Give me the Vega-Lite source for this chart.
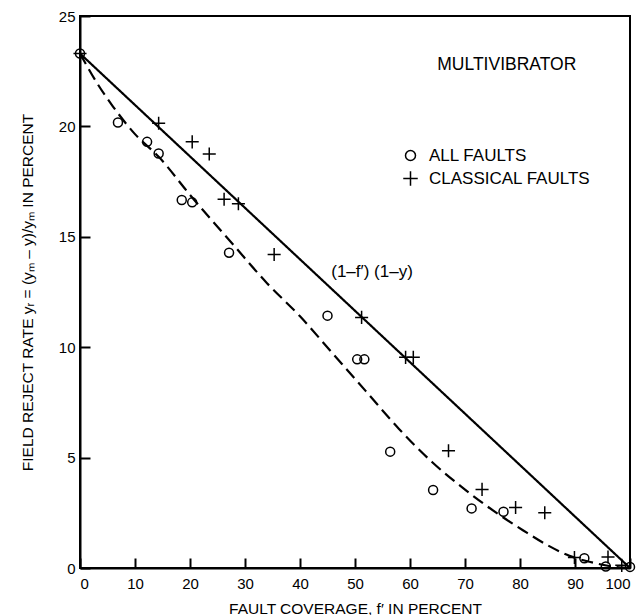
{
  "$schema": "https://vega.github.io/schema/vega-lite/v6.json",
  "autosize": {"type": "none"},
  "padding": {"left": 80, "top": 16, "right": 13, "bottom": 47},
  "width": 550,
  "height": 552,
  "background": "white",
  "config": {
    "font": "Liberation Sans",
    "view": {"stroke": "black", "strokeWidth": 2},
    "axis": {
      "grid": false,
      "domainColor": "black",
      "domainWidth": 2,
      "tickColor": "black",
      "tickWidth": 2,
      "tickSize": -10,
      "labelColor": "black",
      "labelFont": "Liberation Sans",
      "labelFontSize": 15,
      "titleColor": "black",
      "titleFont": "Liberation Sans",
      "titleFontSize": 15.5,
      "titleFontWeight": "normal"
    }
  },
  "datasets": {
    "points": [
      {"f": 0, "yr": 23.3, "series": "CLASSICAL FAULTS"},
      {"f": 14.3, "yr": 20.14, "series": "CLASSICAL FAULTS"},
      {"f": 20.4, "yr": 19.3, "series": "CLASSICAL FAULTS"},
      {"f": 23.5, "yr": 18.75, "series": "CLASSICAL FAULTS"},
      {"f": 26.2, "yr": 16.7, "series": "CLASSICAL FAULTS"},
      {"f": 28.8, "yr": 16.5, "series": "CLASSICAL FAULTS"},
      {"f": 35.3, "yr": 14.2, "series": "CLASSICAL FAULTS"},
      {"f": 51.2, "yr": 11.35, "series": "CLASSICAL FAULTS"},
      {"f": 59.2, "yr": 9.54, "series": "CLASSICAL FAULTS"},
      {"f": 60.6, "yr": 9.54, "series": "CLASSICAL FAULTS"},
      {"f": 67.0, "yr": 5.31, "series": "CLASSICAL FAULTS"},
      {"f": 73.1, "yr": 3.56, "series": "CLASSICAL FAULTS"},
      {"f": 79.2, "yr": 2.74, "series": "CLASSICAL FAULTS"},
      {"f": 84.5, "yr": 2.5, "series": "CLASSICAL FAULTS"},
      {"f": 89.9, "yr": 0.48, "series": "CLASSICAL FAULTS"},
      {"f": 96.0, "yr": 0.5, "series": "CLASSICAL FAULTS"},
      {"f": 98.5, "yr": 0.12, "series": "CLASSICAL FAULTS"},
      {"f": 0, "yr": 23.3, "series": "ALL FAULTS"},
      {"f": 6.9, "yr": 20.18, "series": "ALL FAULTS"},
      {"f": 12.2, "yr": 19.3, "series": "ALL FAULTS"},
      {"f": 14.3, "yr": 18.77, "series": "ALL FAULTS"},
      {"f": 18.5, "yr": 16.67, "series": "ALL FAULTS"},
      {"f": 20.4, "yr": 16.56, "series": "ALL FAULTS"},
      {"f": 27.1, "yr": 14.28, "series": "ALL FAULTS"},
      {"f": 45.0, "yr": 11.43, "series": "ALL FAULTS"},
      {"f": 50.4, "yr": 9.45, "series": "ALL FAULTS"},
      {"f": 51.7, "yr": 9.45, "series": "ALL FAULTS"},
      {"f": 56.4, "yr": 5.27, "series": "ALL FAULTS"},
      {"f": 64.2, "yr": 3.53, "series": "ALL FAULTS"},
      {"f": 71.2, "yr": 2.7, "series": "ALL FAULTS"},
      {"f": 77.0, "yr": 2.55, "series": "ALL FAULTS"},
      {"f": 91.7, "yr": 0.44, "series": "ALL FAULTS"},
      {"f": 95.6, "yr": 0.07, "series": "ALL FAULTS"},
      {"f": 100, "yr": 0.05, "series": "ALL FAULTS"}
    ],
    "curves": [
      {"f": 0, "yr": 23.3, "curve": "solid"},
      {"f": 100, "yr": 0, "curve": "solid"},
      {"f": 0, "yr": 23.3, "curve": "dashed"},
      {"f": 3, "yr": 22.0, "curve": "dashed"},
      {"f": 6, "yr": 20.9, "curve": "dashed"},
      {"f": 10, "yr": 19.65, "curve": "dashed"},
      {"f": 14.4, "yr": 18.6, "curve": "dashed"},
      {"f": 20, "yr": 16.9, "curve": "dashed"},
      {"f": 28, "yr": 14.6, "curve": "dashed"},
      {"f": 34, "yr": 12.9, "curve": "dashed"},
      {"f": 40, "yr": 11.4, "curve": "dashed"},
      {"f": 46, "yr": 9.7, "curve": "dashed"},
      {"f": 52, "yr": 8.0, "curve": "dashed"},
      {"f": 58, "yr": 6.3, "curve": "dashed"},
      {"f": 64, "yr": 4.8, "curve": "dashed"},
      {"f": 70, "yr": 3.55, "curve": "dashed"},
      {"f": 76, "yr": 2.45, "curve": "dashed"},
      {"f": 80.6, "yr": 1.7, "curve": "dashed"},
      {"f": 84.8, "yr": 1.06, "curve": "dashed"},
      {"f": 89, "yr": 0.55, "curve": "dashed"},
      {"f": 93.3, "yr": 0.24, "curve": "dashed"},
      {"f": 97, "yr": 0.06, "curve": "dashed"},
      {"f": 100, "yr": 0, "curve": "dashed"}
    ],
    "labels": [
      {"f": 77.6, "yr": 22.8, "text": "MULTIVIBRATOR", "size": "big"},
      {"f": 53.1, "yr": 13.4, "text": "(1–f′) (1–y)", "size": "small"}
    ]
  },
  "layer": [
    {
      "data": {"name": "curves"},
      "mark": {"type": "line", "color": "black", "strokeWidth": 2.2, "clip": false, "interpolate": "monotone"},
      "encoding": {
        "x": {
          "field": "f", "type": "quantitative",
          "scale": {"domain": [0, 100], "nice": false, "zero": false},
          "axis": {
            "values": [0, 10, 20, 30, 40, 50, 60, 70, 80, 90, 100],
            "labelPadding": 18,
            "title": "FAULT COVERAGE, f′ IN PERCENT",
            "titleX": 275, "titleY": 40,
            "titleAlign": "center", "titleBaseline": "middle"
          }
        },
        "y": {
          "field": "yr", "type": "quantitative",
          "scale": {"domain": [0, 25], "nice": false, "zero": false},
          "axis": {
            "values": [0, 5, 10, 15, 20, 25],
            "labelPadding": 15,
            "title": "FIELD REJECT RATE yᵣ = (yₘ – y)/yₘ IN PERCENT",
            "titleX": -53, "titleY": 276,
            "titleAlign": "center", "titleBaseline": "middle"
          }
        },
        "detail": {"field": "curve"},
        "strokeDash": {
          "field": "curve", "type": "nominal",
          "scale": {"domain": ["solid", "dashed"], "range": [[1, 0], [12, 6]]},
          "legend": null
        }
      }
    },
    {
      "data": {"name": "points"},
      "mark": {"type": "point", "filled": false, "color": "black", "strokeWidth": 1.5, "size": 81, "opacity": 1, "clip": false},
      "encoding": {
        "x": {"field": "f", "type": "quantitative"},
        "y": {"field": "yr", "type": "quantitative"},
        "shape": {
          "field": "series", "type": "nominal",
          "scale": {
            "domain": ["ALL FAULTS", "CLASSICAL FAULTS"],
            "range": ["circle", "M-1.45,0L1.45,0M0,-1.45L0,1.45"]
          },
          "legend": {
            "title": null,
            "orient": "none",
            "legendX": 322,
            "legendY": 131,
            "padding": 0,
            "labelFont": "Liberation Sans",
            "labelFontSize": 17,
            "labelColor": "black",
            "labelOffset": 10,
            "labelLimit": 0,
            "rowPadding": 4,
            "symbolStrokeColor": "black",
            "symbolStrokeWidth": 1.5
          }
        }
      }
    },
    {
      "data": {"name": "labels"},
      "mark": {"type": "text", "color": "black", "font": "Liberation Sans", "align": "center", "baseline": "middle"},
      "encoding": {
        "x": {"field": "f", "type": "quantitative"},
        "y": {"field": "yr", "type": "quantitative"},
        "text": {"field": "text"},
        "size": {
          "field": "size", "type": "nominal",
          "scale": {"domain": ["big", "small"], "range": [17.5, 17]},
          "legend": null
        }
      }
    }
  ]
}
